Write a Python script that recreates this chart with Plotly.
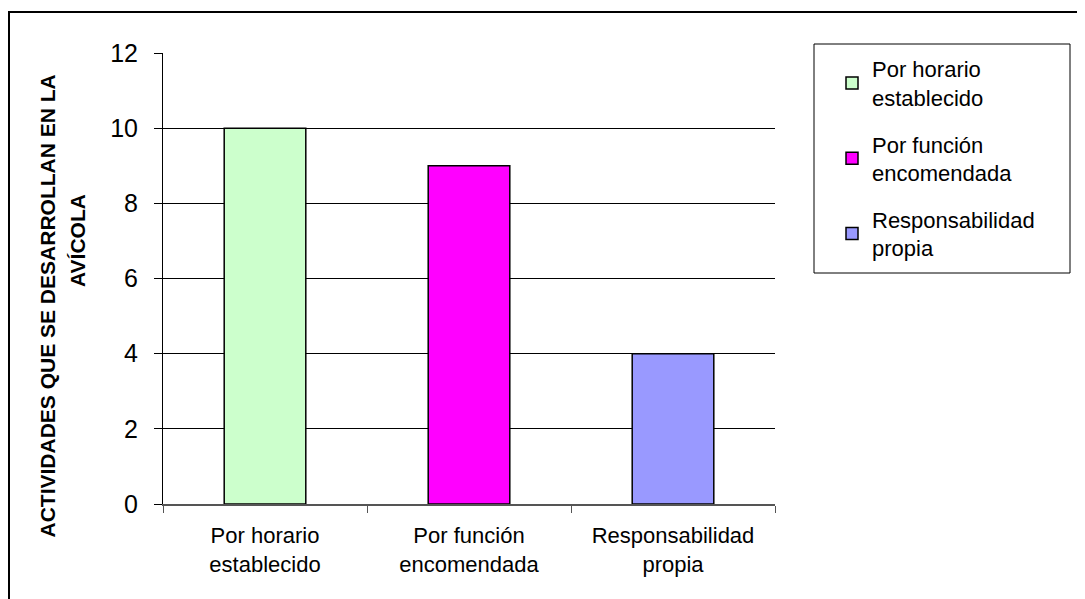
import plotly.graph_objects as go

categories = ["Por horario establecido", "Por función encomendada", "Responsabilidad propia"]
tick_labels = ["Por horario<br>establecido", "Por función<br>encomendada", "Responsabilidad<br>propia"]
legend_names = ["Por horario<br>establecido", "Por función<br>encomendada", "Responsabilidad<br>propia"]
values = [10, 9, 4]
colors = ["#CCFFCC", "#FF00FF", "#9999FF"]
y_title_line1 = "ACTIVIDADES QUE SE DESARROLLAN EN LA"
y_title_line2 = "AVÍCOLA"

FONT = "Liberation Sans, Arial, sans-serif"

# The page shows the figure offset by the default 8px body margin,
# so layout margins are reduced by that amount.
OFF = 8
W, H = 1085, 599
# plot area in page pixels: x 163..775, y 53..504
L, R, T, B = 163, 775, 53, 504
def px(x):
    return (x - L) / (R - L)
def py(y):
    return (B - y) / (B - T)

fig = go.Figure()
for i, (c, v) in enumerate(zip(categories, values)):
    fig.add_trace(go.Bar(
        x=[c], y=[v], name=legend_names[i],
        marker=dict(color=colors[i], line=dict(color="black", width=1.5)),
        width=0.4, legendgroup=f"g{i}",
    ))

fig.update_layout(
    width=W, height=H,
    margin=dict(l=L - OFF, r=W - (R - OFF), t=T - OFF, b=H - (B - OFF), pad=0),
    paper_bgcolor="white", plot_bgcolor="white",
    barmode="overlay",
    font=dict(family=FONT, color="black"),
    showlegend=True,
    legend=dict(
        x=px(832), y=py(48), xanchor="left", yanchor="top",
        bgcolor="rgba(0,0,0,0)", borderwidth=0,
        font=dict(family=FONT, size=22, color="black"),
        tracegroupgap=15,
    ),
    xaxis=dict(
        categoryorder="array", categoryarray=categories,
        tickmode="array", tickvals=categories, ticktext=tick_labels,
        tickson="boundaries", ticks="outside", ticklen=7, tickcolor="#555555",
        showline=True, linecolor="#555555", linewidth=1.5,
        showgrid=False, zeroline=False,
        tickfont=dict(family=FONT, size=22, color="black"),
        ticklabelstandoff=11,
        fixedrange=True,
    ),
    yaxis=dict(
        range=[0, 12], dtick=2, tick0=0,
        ticks="outside", ticklen=8, tickcolor="black",
        showline=True, linecolor="black", linewidth=1,
        showgrid=True, gridcolor="black", gridwidth=1,
        zeroline=False,
        tickfont=dict(family=FONT, size=25, color="black"),
        ticklabelstandoff=11,
        fixedrange=True,
    ),
    shapes=[
        # outer chart border (right and bottom sides fall outside the canvas)
        dict(type="rect", xref="paper", yref="paper",
             x0=px(9), x1=px(1100), y0=py(615), y1=py(12),
             line=dict(color="black", width=2), fillcolor="rgba(0,0,0,0)", layer="above"),
        # legend box
        dict(type="rect", xref="paper", yref="paper",
             x0=px(814), x1=px(1070), y0=py(273), y1=py(44),
             line=dict(color="black", width=1), fillcolor="rgba(0,0,0,0)", layer="above"),
    ],
    annotations=[
        dict(text=y_title_line1, xref="paper", yref="paper",
             x=px(47), y=py(540), xanchor="center", yanchor="bottom",
             textangle=-90, showarrow=False,
             font=dict(family=FONT, size=21, color="black", weight="bold")),
        dict(text=y_title_line2, xref="paper", yref="paper",
             x=px(77), y=py(241), xanchor="center", yanchor="middle",
             textangle=-90, showarrow=False,
             font=dict(family=FONT, size=21, color="black", weight="bold")),
    ],
)

fig.write_html("out.html")
